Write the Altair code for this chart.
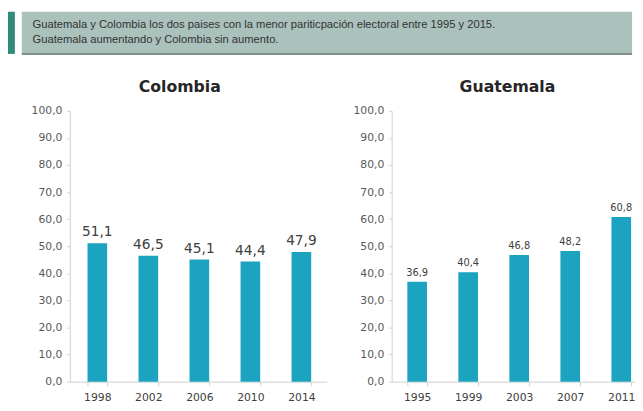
import altair as alt
import pandas as pd

header_lines = [
    "Guatemala y Colombia los dos paises con la menor pariticpación electoral entre 1995 y 2015.",
    "Guatemala aumentando y Colombia  sin aumento.",
]

col_years = ["1998", "2002", "2006", "2010", "2014"]
col_values = [51.1, 46.5, 45.1, 44.4, 47.9]

gua_years = ["1995", "1999", "2003", "2007", "2011"]
gua_values = [36.9, 40.4, 46.8, 48.2, 60.8]

y_ticks = [0, 10, 20, 30, 40, 50, 60, 70, 80, 90, 100]

BAR = "#1ba3bf"
FONT = "DejaVu Sans"

# ---------- header banner (view origin is aligned with the Colombia plot) ----------
one = pd.DataFrame({"a": [0]})
HW, HH = 573, 43
accent = alt.Chart(one).mark_rect(color="#2f8c7a").encode(
    x=alt.value(-63), x2=alt.value(-56), y=alt.value(0), y2=alt.value(HH)
)
banner = alt.Chart(one).mark_rect(color="#aac1bc").encode(
    x=alt.value(-49), x2=alt.value(HW), y=alt.value(0), y2=alt.value(HH)
)
shadow = alt.Chart(one).mark_rule(color="#7f8f8b", strokeWidth=2).encode(
    x=alt.value(-49), x2=alt.value(HW), y=alt.value(HH)
)
t1 = alt.Chart(one).mark_text(
    text=header_lines[0], align="left", baseline="alphabetic",
    font="Liberation Sans", fontSize=11.4, color="#333333"
).encode(x=alt.value(-38), y=alt.value(17))
t2 = alt.Chart(one).mark_text(
    text=header_lines[1], align="left", baseline="alphabetic",
    font="Liberation Sans", fontSize=11.4, color="#333333"
).encode(x=alt.value(-38), y=alt.value(32))
header = alt.layer(accent, banner, shadow, t1, t2).properties(width=HW, height=HH)


def panel(years, values, title, width, p_outer, align, label_size, min_extent, title_dx):
    df = pd.DataFrame({"year": years, "value": values})
    base = alt.Chart(df).transform_calculate(
        label="replace(format(datum.value, '.1f'), '.', ',')"
    ).encode(
        x=alt.X(
            "year:N",
            sort=years,
            scale=alt.Scale(paddingInner=0.615, paddingOuter=p_outer, align=align),
            axis=alt.Axis(
                title=None, labelAngle=0, tickBand="extent", tickSize=4,
                tickColor="#d0d0d0", domainColor="#d0d0d0", labelFont=FONT,
                labelFontSize=11, labelColor="#404040", labelPadding=6,
            ),
        ),
        y=alt.Y(
            "value:Q",
            scale=alt.Scale(domain=[0, 100], nice=False),
            axis=alt.Axis(
                title=None, values=y_ticks, grid=False, tickSize=3,
                tickColor="#d0d0d0", domainColor="#d0d0d0", labelFont=FONT,
                labelFontSize=11, labelColor="#595959", labelPadding=5,
                minExtent=min_extent,
                labelExpr="replace(format(datum.value, '.1f'), '.', ',')",
            ),
        ),
    )
    bars = base.mark_bar(color=BAR)
    text = base.mark_text(
        baseline="bottom", dy=-4, font=FONT, fontSize=label_size, color="#404040"
    ).encode(text="label:N")
    return alt.layer(bars, text).properties(
        width=width, height=276,
        title=alt.TitleParams(
            title, font=FONT, fontSize=16, fontWeight="bold", color="#262626",
            anchor="middle", frame="group", dx=title_dx, offset=10,
        ),
    )


col = panel(col_years, col_values, "Colombia", 262, 0.327, 0.53, 14, 62, -19)
gua = panel(gua_years, gua_values, "Guatemala", 248, 0.192, 0.8, 10, 45, -6)

chart = alt.vconcat(
    header,
    alt.hconcat(col, gua, spacing=21),
    spacing=25,
).properties(padding=0).configure_view(stroke=None)

chart.save("out.html", embed_options={"renderer": "svg", "actions": False})
